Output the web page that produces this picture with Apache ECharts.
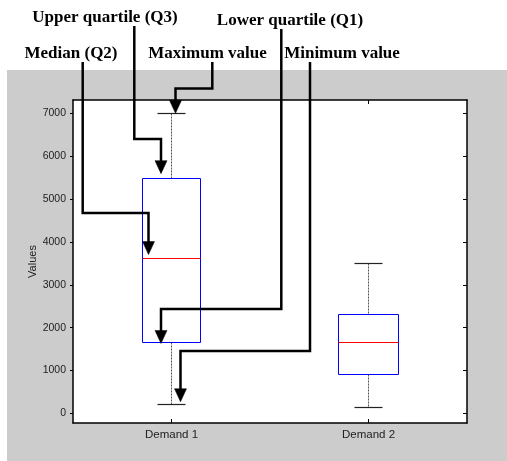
<!DOCTYPE html>
<html>
<head>
<meta charset="utf-8">
<script src="https://cdn.jsdelivr.net/npm/echarts@6/dist/echarts.min.js"></script>
<style>
  html, body { margin: 0; padding: 0; background: #ffffff; }
  #wrap { position: relative; width: 507px; height: 461px; overflow: hidden; }
  #panel { position: absolute; left: 7px; top: 70px; right: 0; bottom: 0; background: #cccccc; }
  #chart { position: absolute; left: 0; top: 0; width: 507px; height: 461px; }
</style>
</head>
<body>
<div id="wrap"><div id="panel"></div><div id="chart"></div></div>
<script>
// Five-number summaries for each demand series
const categories   = ['Demand 1', 'Demand 2'];
const minValues    = [200, 130];
const q1Values     = [1630, 920];
const medianValues = [3600, 1650];
const q3Values     = [5500, 2300];
const maxValues    = [7000, 3500];

// Value axis ticks and limits
const yTicks = [0, 1000, 2000, 3000, 4000, 5000, 6000, 7000];
const yMin = -226;
const yMax = 7312;

// Callout labels and the statistic each one points at (on Demand 1)
const calloutNames = ['Median (Q2)', 'Upper quartile (Q3)', 'Maximum value', 'Lower quartile (Q1)', 'Minimum value'];
const calloutStats = [medianValues, q3Values, maxValues, q1Values, minValues];

const boxData = categories.map((c, i) => [i, minValues[i], q1Values[i], medianValues[i], q3Values[i], maxValues[i]]);

// Snap a coordinate to a pixel centre so 1px strokes stay crisp
const crisp = v => Math.round(v - 0.5) + 0.5;
// Snap coloured 1px strokes onto even pixel rows/columns
const crispEven = v => 2 * Math.round((v - 0.5) / 2) + 0.5;

function renderBox(params, api) {
  const c = api.value(0);
  const pMin = api.coord([c, api.value(1)]);
  const pQ1 = api.coord([c, api.value(2)]);
  const pMed = api.coord([c, api.value(3)]);
  const pQ3 = api.coord([c, api.value(4)]);
  const pMax = api.coord([c, api.value(5)]);
  const band = api.size([1, 0])[0];
  const half = band * 0.152;
  const cap = Math.round(band * 0.072);
  const x = crisp(pMed[0]);
  const xl = crispEven(pMed[0] - half), xr = crispEven(pMed[0] + half);
  const yMaxP = crisp(pMax[1]), yMinP = crisp(pMin[1]);
  const yQ3 = crispEven(pQ3[1]), yMed = crispEven(pMed[1]), yQ1 = crispEven(pQ1[1]);
  const whisker = { stroke: '#555', lineWidth: 1, lineDash: [2, 1] };
  const capStyle = { stroke: '#222', lineWidth: 1.2 };
  return {
    type: 'group',
    children: [
      { type: 'line', shape: { x1: x, y1: yMaxP, x2: x, y2: yQ3 }, style: whisker },
      { type: 'line', shape: { x1: x, y1: yQ1, x2: x, y2: yMinP }, style: whisker },
      { type: 'line', shape: { x1: x - cap, y1: yMaxP, x2: x + cap, y2: yMaxP }, style: capStyle },
      { type: 'line', shape: { x1: x - cap, y1: yMinP, x2: x + cap, y2: yMinP }, style: capStyle },
      { type: 'rect', shape: { x: xl, y: yQ3, width: xr - xl, height: yQ1 - yQ3 },
        style: { fill: 'none', stroke: '#0000ff', lineWidth: 1 } },
      { type: 'line', shape: { x1: xl, y1: yMed, x2: xr, y2: yMed },
        style: { stroke: '#ff0000', lineWidth: 1 } }
    ]
  };
}

const chart = echarts.init(document.getElementById('chart'), null, { renderer: 'canvas' });
const axisLineStyle = { color: '#000', width: 1.5 };

chart.setOption({
  backgroundColor: 'transparent',
  animation: false,
  grid: { left: 73, right: 40, top: 100, bottom: 38, show: true, backgroundColor: '#ffffff', borderWidth: 0 },
  xAxis: [
    {
      type: 'category', data: categories, position: 'bottom',
      axisLine: { show: true, onZero: false, lineStyle: axisLineStyle },
      axisTick: { show: true, inside: true, length: 4, alignWithLabel: true, lineStyle: { color: '#000' } },
      axisLabel: { color: '#222', fontFamily: 'Liberation Sans', fontSize: 11.5, margin: 6 },
      splitLine: { show: false }
    },
    {
      type: 'category', data: categories, position: 'top',
      axisLine: { show: true, onZero: false, lineStyle: axisLineStyle },
      axisTick: { show: true, inside: true, length: 4, alignWithLabel: true, lineStyle: { color: '#000' } },
      axisLabel: { show: false },
      splitLine: { show: false }
    }
  ],
  yAxis: [
    {
      type: 'value', position: 'left', min: yMin, max: yMax,
      name: 'Values', nameLocation: 'middle', nameRotate: 90, nameGap: 35, nameMoveOverlap: false,
      nameTextStyle: { color: '#222', fontFamily: 'Liberation Sans', fontSize: 11 },
      axisLine: { show: true, onZero: false, lineStyle: axisLineStyle },
      axisTick: { show: true, inside: false, length: 3, customValues: yTicks, lineStyle: { color: '#000' } },
      axisLabel: { customValues: yTicks, formatter: v => String(v), color: '#222',
                   fontFamily: 'Liberation Sans', fontSize: 10.5, margin: 7 },
      splitLine: { show: false }
    },
    {
      type: 'value', position: 'right', min: yMin, max: yMax,
      axisLine: { show: true, onZero: false, lineStyle: axisLineStyle },
      axisTick: { show: true, inside: true, length: 4, customValues: yTicks, lineStyle: { color: '#000' } },
      axisLabel: { show: false },
      splitLine: { show: false }
    }
  ],
  series: [{
    type: 'custom',
    xAxisIndex: 0, yAxisIndex: 0,
    renderItem: renderBox,
    encode: { x: 0, y: [1, 2, 3, 4, 5] },
    data: boxData,
    z: 3
  }]
});

// Callout layout: label centre, where the leader leaves the label,
// the elbow height, the horizontal offset of the arrow from the box centre,
// and the gap between arrow tip and the statistic.
const calloutLayout = [
  { lx: 71,  ly: 53.5, sx: 82.7,  sy: 62, ey: 213, dx: -23,   gap: 4.5 },
  { lx: 105, ly: 18,   sx: 134.3, sy: 26, ey: 139, dx: -10.5, gap: 4 },
  { lx: 207.5, ly: 53.5, sx: 212.3, sy: 62, ey: 88.5, dx: 4,  gap: 0 },
  { lx: 290, ly: 21,   sx: 281.3, sy: 29, ey: 309, dx: -10.5, gap: 0 },
  { lx: 342, ly: 53.5, sx: 310,   sy: 62, ey: 351, dx: 9,     gap: 3 }
];

const graphics = [];
calloutNames.forEach((name, k) => {
  const L = calloutLayout[k];
  const p = chart.convertToPixel({ seriesIndex: 0 }, [0, calloutStats[k][0]]);
  const ax = p[0] + L.dx;
  const tipY = p[1] - L.gap;
  const headH = 13, headW = 6;
  graphics.push({
    type: 'text', x: L.lx, y: L.ly, z: 10,
    style: { text: name, x: 0, y: 0, align: 'center', verticalAlign: 'middle',
             font: 'bold 17px "Liberation Serif"', fill: '#000' }
  });
  graphics.push({
    type: 'polyline', z: 11,
    shape: { points: [[L.sx, L.sy], [L.sx, L.ey], [ax, L.ey], [ax, tipY - headH + 1]] },
    style: { stroke: '#000', lineWidth: 2.5, fill: null, lineJoin: 'miter' }
  });
  graphics.push({
    type: 'polygon', z: 11,
    shape: { points: [[ax, tipY], [ax - headW, tipY - headH], [ax + headW, tipY - headH]] },
    style: { fill: '#000', stroke: '#000', lineWidth: 0.5 }
  });
});
chart.setOption({ graphic: graphics });
</script>
</body>
</html>
